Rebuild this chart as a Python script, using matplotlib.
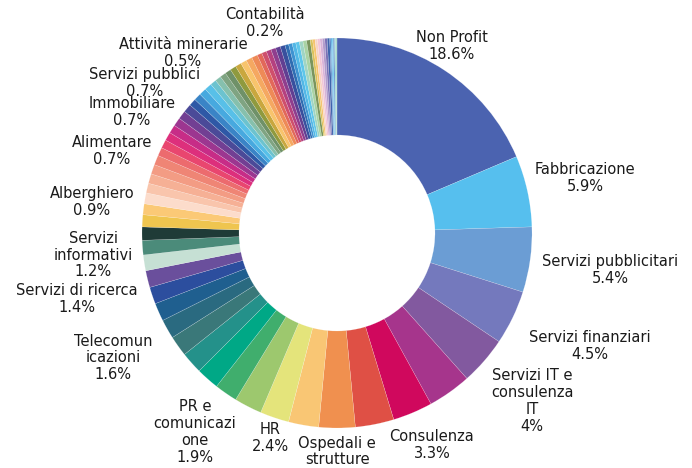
import matplotlib
matplotlib.use("Agg")
import matplotlib.pyplot as plt

# sectors, sorted as in the chart (clockwise from 12 o'clock); "" = no label shown
names = [
    "Non Profit", "Fabbricazione", "Servizi pubblicitari", "Servizi finanziari",
    "Servizi IT e\nconsulenza\nIT", "", "Consulenza", "", "Ospedali e\nstrutture",
    "", "HR", "", "PR e\ncomunicazi\none", "", "", "", "Telecomun\nicazioni", "",
    "Servizi di ricerca", "", "", "Servizi\ninformativi", "", "", "Alberghiero",
    "", "", "", "", "", "Alimentare", "", "", "Immobiliare", "", "", "Servizi pubblici",
    "", "", "", "", "", "", "", "", "Attività minerarie", "", "", "", "",
    "", "", "", "", "", "", "", "", "", "", "", "", "", "", "", "Contabilità",
    "", "", "", "", "", "", "", "", "", "", "",
]
values = [
    18.6, 5.9, 5.4, 4.5, 4.0, 3.6, 3.3, 3.2, 3.0,
    2.5, 2.4, 2.3, 1.9, 1.9, 1.8, 1.7, 1.6, 1.5,
    1.4, 1.4, 1.3, 1.2, 1.1, 1.0, 0.9,
    0.9, 0.8, 0.8, 0.8, 0.8,
    0.7, 0.7, 0.7, 0.7, 0.7, 0.7, 0.7,
    0.6, 0.6, 0.6, 0.6,
    0.5, 0.5, 0.5, 0.5, 0.5, 0.5, 0.5, 0.5, 0.5,
    0.4, 0.4, 0.4, 0.4, 0.4, 0.4,
    0.3, 0.3, 0.3, 0.3, 0.3, 0.3, 0.3,
    0.2, 0.2, 0.2, 0.2, 0.2, 0.2, 0.2, 0.2,
    0.1, 0.1, 0.1, 0.1, 0.1, 0.1,
]
colors = [
    "#4b63b0", "#56bfee", "#6b9dd4", "#7479bd", "#82599f", "#a6358c", "#d0085d",
    "#df5045", "#f0904f", "#f9c674", "#e4e47b", "#9dc86e", "#40ae6d", "#00a886",
    "#24918a", "#3a7879", "#2a6a80", "#1f5f8f", "#2c4e9e", "#6a4f9c", "#c6e0d4",
    "#4b8b7a", "#1f3b37", "#efc54f", "#fbc976",
    "#fcdccb", "#f9c5ac", "#f6b095", "#f39c84", "#ef8575",
    "#ec6b6e", "#e9466f", "#dd2f7c", "#c72c87", "#9c3690", "#723f93", "#4b4a98",
    "#2e58a6", "#3a84c6", "#47a9df", "#58c0e8",
    "#6cc3cf", "#86c0ad", "#7fa482", "#6f9168", "#8f9a3e", "#c9a73e", "#f8c46c",
    "#f5a861", "#ee8a57",
    "#e2685a", "#cf4f6c", "#b5417f", "#8f3e8e", "#613f92", "#38509e",
    "#2f6db2", "#3e93d1", "#52b7e6", "#5ec6ea", "#9fd5c4", "#a9d3a4", "#79955d",
    "#d9c25a", "#f6c46e", "#f7d3c3", "#f2c5d6", "#d9b3d8", "#b39ccc", "#7a72b6",
    "#3e64ad",
    "#4e84c6", "#63b1e3", "#5cc3ef", "#4f7fbf", "#94d3cf", "#a7d9c9",
]

# label anchor points in pixels (x from left, y from top)
label_pos = {
    "Non Profit": (452, 46),
    "Fabbricazione": (585, 178),
    "Servizi pubblicitari": (610, 270),
    "Servizi finanziari": (590, 346),
    "Servizi IT e\nconsulenza\nIT": (532, 401),
    "Consulenza": (432, 445),
    "Ospedali e\nstrutture": (337, 460),
    "HR": (270, 438),
    "PR e\ncomunicazi\none": (195, 432),
    "Telecomun\nicazioni": (113, 358),
    "Servizi di ricerca": (77, 299),
    "Servizi\ninformativi": (93, 255),
    "Alberghiero": (92, 202),
    "Alimentare": (112, 151),
    "Immobiliare": (132, 112),
    "Servizi pubblici": (145, 83),
    "Attività minerarie": (183, 53),
    "Contabilità": (265, 23),
}

W, H = 692, 468
fig = plt.figure(figsize=(W / 100, H / 100), dpi=100)
ax = fig.add_axes([0, 0, 1, 1])

ax.pie(values, colors=colors, startangle=90, counterclock=False,
       radius=195, center=(337, H - 233),
       wedgeprops=dict(width=97, edgecolor=(1, 1, 1, 0.5), linewidth=0.2))
ax.set_aspect("auto")
ax.set_xlim(0, W)
ax.set_ylim(0, H)
ax.axis("off")

for name, v in zip(names, values):
    if not name:
        continue
    x, y = label_pos[name]
    ax.text(x, H - y, f"{name}\n{v:g}%", ha="center", va="center",
            fontsize=10.5, family="DejaVu Sans", color="#1a1a1a",
            linespacing=1.15)

fig.savefig("out.png", dpi=100)
